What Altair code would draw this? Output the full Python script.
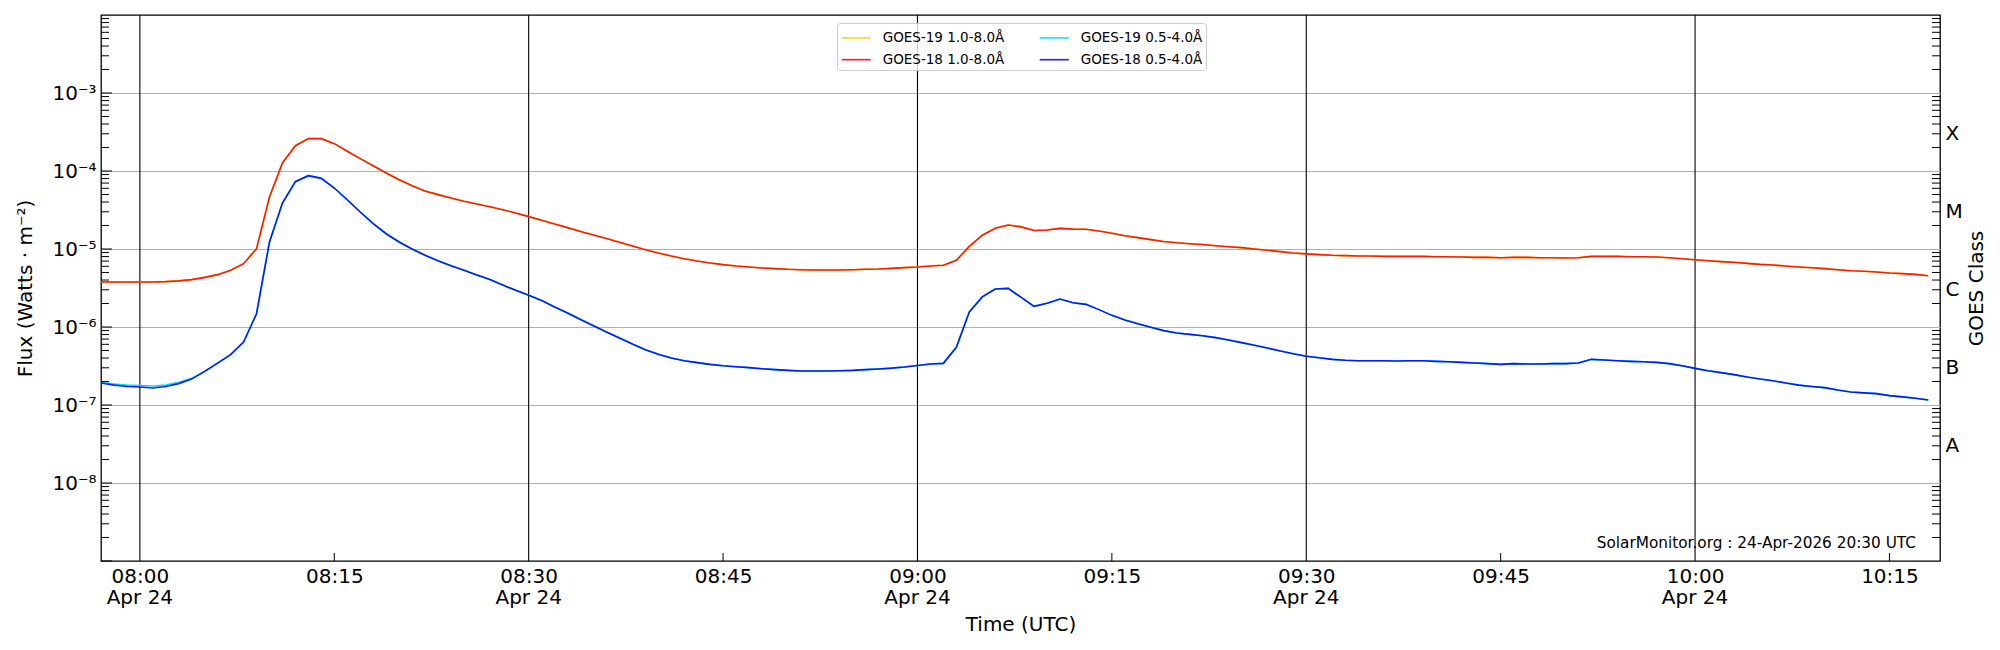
import altair as alt
import pandas as pd

# ---------------- data (1-minute cadence, 07:57 .. 10:18 UTC, 24-Apr-2026) ----------------
# time axis: minutes after 08:00 UTC on 24-Apr-2026
minutes = list(range(-3, 139))

xrs18_long = [
    3.78e-6, 3.78e-6, 3.78e-6, 3.78e-6, 3.78e-6, 3.82e-6, 3.90e-6, 4.05e-6, 4.33e-6, 4.69e-6,
    5.33e-6, 6.48e-6, 1.01e-5, 4.64e-5, 1.27e-4, 2.11e-4, 2.60e-4, 2.60e-4, 2.24e-4, 1.79e-4,
    1.44e-4, 1.17e-4, 9.42e-5, 7.74e-5, 6.49e-5, 5.54e-5, 4.98e-5, 4.51e-5, 4.09e-5, 3.78e-5,
    3.49e-5, 3.19e-5, 2.90e-5, 2.60e-5, 2.33e-5, 2.09e-5, 1.88e-5, 1.68e-5, 1.51e-5, 1.36e-5,
    1.22e-5, 1.09e-5, 9.80e-6, 8.89e-6, 8.13e-6, 7.51e-6, 7.02e-6, 6.62e-6, 6.30e-6, 6.05e-6,
    5.88e-6, 5.71e-6, 5.60e-6, 5.49e-6, 5.43e-6, 5.38e-6, 5.38e-6, 5.38e-6, 5.43e-6, 5.49e-6,
    5.54e-6, 5.65e-6, 5.77e-6, 5.88e-6, 6.05e-6, 6.18e-6, 7.16e-6, 1.08e-5, 1.50e-5, 1.84e-5,
    2.03e-5, 1.92e-5, 1.73e-5, 1.75e-5, 1.84e-5, 1.80e-5, 1.79e-5, 1.70e-5, 1.59e-5, 1.48e-5,
    1.40e-5, 1.32e-5, 1.25e-5, 1.20e-5, 1.17e-5, 1.14e-5, 1.10e-5, 1.07e-5, 1.04e-5, 1.00e-5,
    9.62e-6, 9.25e-6, 8.89e-6, 8.67e-6, 8.46e-6, 8.30e-6, 8.22e-6, 8.13e-6, 8.13e-6, 8.05e-6,
    8.05e-6, 8.05e-6, 8.05e-6, 7.97e-6, 7.97e-6, 7.89e-6, 7.81e-6, 7.81e-6, 7.74e-6, 7.81e-6,
    7.81e-6, 7.74e-6, 7.74e-6, 7.67e-6, 7.74e-6, 8.05e-6, 8.05e-6, 8.05e-6, 7.97e-6, 7.97e-6,
    7.89e-6, 7.74e-6, 7.51e-6, 7.29e-6, 7.08e-6, 6.89e-6, 6.75e-6, 6.55e-6, 6.36e-6, 6.23e-6,
    6.05e-6, 5.88e-6, 5.76e-6, 5.60e-6, 5.43e-6, 5.27e-6, 5.18e-6, 5.07e-6, 4.92e-6, 4.83e-6,
    4.73e-6, 4.55e-6,
]

xrs18_short = [
    1.91e-7, 1.80e-7, 1.73e-7, 1.70e-7, 1.65e-7, 1.73e-7, 1.88e-7, 2.15e-7, 2.70e-7, 3.45e-7,
    4.42e-7, 6.42e-7, 1.48e-6, 1.23e-5, 3.89e-5, 7.30e-5, 8.71e-5, 8.05e-5, 6.05e-5, 4.28e-5,
    2.98e-5, 2.11e-5, 1.57e-5, 1.23e-5, 1.00e-5, 8.30e-6, 7.08e-6, 6.11e-6, 5.33e-6, 4.64e-6,
    4.05e-6, 3.45e-6, 2.95e-6, 2.55e-6, 2.18e-6, 1.80e-6, 1.51e-6, 1.25e-6, 1.04e-6, 8.63e-7,
    7.23e-7, 6.05e-7, 5.12e-7, 4.47e-7, 4.01e-7, 3.70e-7, 3.49e-7, 3.32e-7, 3.19e-7, 3.10e-7,
    3.01e-7, 2.92e-7, 2.84e-7, 2.78e-7, 2.73e-7, 2.73e-7, 2.73e-7, 2.75e-7, 2.78e-7, 2.84e-7,
    2.90e-7, 2.97e-7, 3.07e-7, 3.21e-7, 3.35e-7, 3.42e-7, 5.48e-7, 1.56e-6, 2.43e-6, 3.07e-6,
    3.13e-6, 2.40e-6, 1.84e-6, 2.01e-6, 2.28e-6, 2.05e-6, 1.95e-6, 1.67e-6, 1.41e-6, 1.23e-6,
    1.10e-6, 9.90e-7, 8.98e-7, 8.38e-7, 8.05e-7, 7.74e-7, 7.30e-7, 6.81e-7, 6.30e-7, 5.82e-7,
    5.38e-7, 4.92e-7, 4.55e-7, 4.21e-7, 4.04e-7, 3.85e-7, 3.74e-7, 3.70e-7, 3.70e-7, 3.70e-7,
    3.66e-7, 3.70e-7, 3.70e-7, 3.63e-7, 3.59e-7, 3.52e-7, 3.45e-7, 3.39e-7, 3.32e-7, 3.39e-7,
    3.35e-7, 3.35e-7, 3.39e-7, 3.39e-7, 3.45e-7, 3.85e-7, 3.77e-7, 3.70e-7, 3.63e-7, 3.59e-7,
    3.52e-7, 3.39e-7, 3.19e-7, 2.95e-7, 2.75e-7, 2.60e-7, 2.45e-7, 2.29e-7, 2.15e-7, 2.05e-7,
    1.91e-7, 1.80e-7, 1.73e-7, 1.67e-7, 1.56e-7, 1.47e-7, 1.43e-7, 1.40e-7, 1.32e-7, 1.27e-7,
    1.22e-7, 1.16e-7,
]

# GOES-19 lies on top of GOES-18; only the first minutes of the short channel differ visibly
xrs19_long = list(xrs18_long)
xrs19_short = [1.97e-7, 1.86e-7, 1.80e-7, 1.78e-7, 1.75e-7, 1.80e-7, 1.95e-7, 2.20e-7] + xrs18_short[8:]

# legend order (Vega fills the 2-column legend column by column)
series_names = ["GOES-19 1.0-8.0Å", "GOES-18 1.0-8.0Å", "GOES-19 0.5-4.0Å", "GOES-18 0.5-4.0Å"]
series_colors = ["#ffd000", "#ff0000", "#00e0ea", "#0000ff"]

time_ticks = [0, 15, 30, 45, 60, 75, 90, 105, 120, 135]
time_labels = ["08:00", "08:15", "08:30", "08:45", "09:00", "09:15", "09:30", "09:45", "10:00", "10:15"]
major_minutes = [0, 30, 60, 90, 120]
major_dates = ["Apr 24", "Apr 24", "Apr 24", "Apr 24", "Apr 24"]
minor_minutes = [15, 45, 75, 105, 135]
flux_ticks = [1e-8, 1e-7, 1e-6, 1e-5, 1e-4, 1e-3]
flux_labels = ["10⁻⁸", "10⁻⁷", "10⁻⁶", "10⁻⁵", "10⁻⁴", "10⁻³"]
class_ticks = [3e-4, 3e-5, 3e-6, 3e-7, 3e-8]
class_labels = ["X", "M", "C", "B", "A"]
stamp_text = "SolarMonitor.org : 24-Apr-2026 20:30 UTC"

# ---------------- tables ----------------
n_points = len(minutes)
df19 = pd.DataFrame({
    "t": minutes * 2,
    "flux": xrs19_long + xrs19_short,
    "series": [series_names[0]] * n_points + [series_names[2]] * n_points,
})
df18 = pd.DataFrame({
    "t": minutes * 2,
    "flux": xrs18_long + xrs18_short,
    "series": [series_names[1]] * n_points + [series_names[3]] * n_points,
})

decade_vals = [10.0 ** e for e in range(-9, -2)]
minor_vals = [k * 10.0 ** e for e in range(-9, -2) for k in range(2, 10)]
vlines = pd.DataFrame({"t": major_minutes, "date": major_dates})
bticks = pd.DataFrame({"t": minor_minutes})
stamp = pd.DataFrame({"s": [stamp_text]})

# ---------------- geometry ----------------
W, H = 1839, 546
FONT = "DejaVu Sans"

xscale = alt.Scale(domain=[-3, 138.9], nice=False, zero=False)
yscale = alt.Scale(type="log", domain=[1e-9, 1e-2], nice=False)
cscale = alt.Scale(domain=series_names, range=series_colors)


def arr(items):
    return "[" + ",".join("'%s'" % s for s in items) + "]"


time_expr = arr(time_labels) + "[round(datum.value/15)]"
flux_expr = arr(flux_labels) + "[round(log(datum.value)/LN10)+8]"
class_expr = arr(class_labels) + "[round(-log(datum.value)/LN10-3.523)]"

x_axis = alt.Axis(
    values=time_ticks, labelExpr=time_expr,
    title="Time (UTC)", grid=False, ticks=False, domain=False,
    labelFontSize=20, labelFont=FONT, labelColor="black", labelPadding=5,
    labelBaseline="top", labelFlush=False, labelOverlap=False,
    titleFontSize=20, titleFont=FONT, titleFontWeight="normal", titleColor="black",
    titlePadding=28,
)
y_axis = alt.Axis(
    values=flux_ticks, labelExpr=flux_expr, title="Flux (Watts · m⁻²)",
    grid=True, gridColor="#b0b0b0", gridWidth=1.1, ticks=False, domain=False,
    labelFontSize=20, labelFont=FONT, labelColor="black", labelPadding=5,
    labelFlush=False, labelOverlap=False,
    titleFontSize=20, titleFont=FONT, titleFontWeight="normal", titleColor="black",
    titlePadding=16,
)
class_axis = alt.Axis(
    orient="right", values=class_ticks, labelExpr=class_expr, title="GOES Class",
    grid=False, ticks=False, domain=False,
    labelFontSize=20, labelFont=FONT, labelColor="black", labelPadding=5,
    labelFlush=False, labelOverlap=False,
    titleFontSize=20, titleFont=FONT, titleFontWeight="normal", titleColor="black",
    titleAngle=270, titleBaseline="top", titlePadding=4,
)

legend = alt.Legend(
    title=None, orient="none", legendX=736, legendY=8, columns=2, columnPadding=31,
    rowPadding=4, padding=3.7, symbolType="M-1,0L1.9,0", symbolSize=400,
    symbolStrokeWidth=1.6, labelFontSize=13.5, labelFont=FONT, labelColor="black",
    labelOffset=20, strokeColor="#cccccc", fillColor="rgba(255,255,255,0.8)", cornerRadius=3,
)

X = alt.X("t:Q", scale=xscale, axis=x_axis)

vline_layer = alt.Chart(vlines).mark_rule(color="black", strokeWidth=1.1).encode(x=X)
date_layer = alt.Chart(vlines).mark_text(
    align="center", baseline="alphabetic", fontSize=20, font=FONT, color="black"
).encode(
    x=X,
    y=alt.value(H + 42.7),
    text="date:N",
)

line19 = alt.Chart(df19).mark_line(strokeWidth=1.6).encode(
    x=X,
    y=alt.Y("flux:Q", scale=yscale, axis=y_axis),
    color=alt.Color("series:N", scale=cscale, legend=legend),
    detail="series:N",
)
line18 = alt.Chart(df18).mark_line(strokeWidth=1.6, opacity=0.88).encode(
    x=X,
    y=alt.Y("flux:Q", scale=yscale, axis=None),
    color=alt.Color("series:N", scale=cscale, legend=legend),
    detail="series:N",
)

left_minor_layer = alt.Chart(pd.DataFrame({"v": minor_vals})).mark_rule(color="black", strokeWidth=1).encode(
    y=alt.Y("v:Q", scale=yscale, axis=None),
    x=alt.value(0),
    x2=alt.value(8),
)
left_major_layer = alt.Chart(pd.DataFrame({"v": decade_vals})).mark_rule(color="black", strokeWidth=1).encode(
    y=alt.Y("v:Q", scale=yscale, axis=None),
    x=alt.value(0),
    x2=alt.value(11),
)
right_tick_layer = alt.Chart(pd.DataFrame({"v": minor_vals})).mark_rule(color="black", strokeWidth=1).encode(
    y=alt.Y("v:Q", scale=yscale, axis=class_axis),
    x=alt.value(W - 8),
    x2=alt.value(W),
)
bottom_tick_layer = alt.Chart(bticks).mark_rule(color="black", strokeWidth=1).encode(
    x=X,
    y=alt.value(H - 8),
    y2=alt.value(H),
)
stamp_layer = alt.Chart(stamp).mark_text(
    align="right", baseline="middle", fontSize=15.3, font=FONT, color="black"
).encode(
    text="s:N",
    x=alt.value(W - 24),
    y=alt.value(H - 18),
)

chart = alt.layer(
    vline_layer, line19, line18, left_minor_layer, left_major_layer,
    right_tick_layer, bottom_tick_layer, stamp_layer, date_layer,
).resolve_axis(y="independent").properties(
    width=W, height=H,
    background="white",
    autosize=alt.AutoSizeParams(type="none"),
    padding={"left": 93, "top": 7, "right": 52, "bottom": 84},
).configure_view(
    stroke="black", strokeWidth=1.3, fill="white"
)

chart.save("out.html", embed_options={"renderer": "svg", "actions": False})
